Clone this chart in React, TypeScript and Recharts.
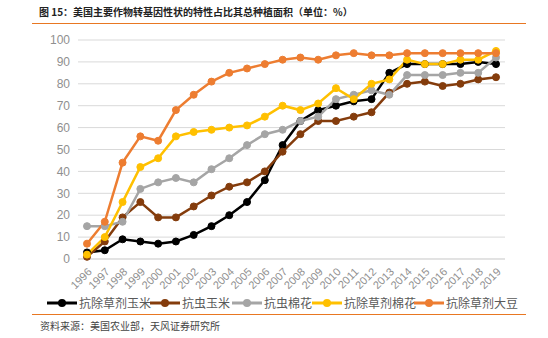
import { LineChart, Line, XAxis, YAxis, CartesianGrid, Legend } from "recharts";

const years = [
  "1996", "1997", "1998", "1999", "2000", "2001", "2002", "2003", "2004", "2005", "2006", "2007",
  "2008", "2009", "2010", "2011", "2012", "2013", "2014", "2015", "2016", "2017", "2018", "2019",
];

const htCorn = [3, 4, 9, 8, 7, 8, 11, 15, 20, 26, 36, 52, 63, 68, 70, 72, 73, 85, 89, 89, 89, 89, 90, 89];
const btCorn = [1, 8, 19, 26, 19, 19, 24, 29, 33, 35, 40, 49, 57, 63, 63, 65, 67, 76, 80, 81, 79, 80, 82, 83];
const btCotton = [15, 15, 17, 32, 35, 37, 35, 41, 46, 52, 57, 59, 63, 65, 73, 75, 77, 75, 84, 84, 84, 85, 85, 92];
const htCotton = [2, 10, 26, 42, 46, 56, 58, 59, 60, 61, 65, 70, 68, 71, 78, 73, 80, 82, 91, 89, 89, 91, 91, 95];
const htSoy = [7, 17, 44, 56, 54, 68, 75, 81, 85, 87, 89, 91, 92, 91, 93, 94, 93, 93, 94, 94, 94, 94, 94, 94];

const yTicks = [0, 10, 20, 30, 40, 50, 60, 70, 80, 90, 100];

const SERIES = [
  { key: "htCorn", name: "抗除草剂玉米", color: "#000000" },
  { key: "btCorn", name: "抗虫玉米", color: "#843C0C" },
  { key: "btCotton", name: "抗虫棉花", color: "#A5A5A5" },
  { key: "htCotton", name: "抗除草剂棉花", color: "#FFC000" },
  { key: "htSoy", name: "抗除草剂大豆", color: "#ED7D31" },
];

const chartData = years.map((year, i) => ({
  year,
  htCorn: htCorn[i],
  btCorn: btCorn[i],
  btCotton: btCotton[i],
  htCotton: htCotton[i],
  htSoy: htSoy[i],
}));

const LEGEND_X = [47, 150, 232, 312, 414];

const LegendContent = () => (
  <div style={{ position: "relative", height: 20, width: 548 }}>
    {SERIES.map((s, i) => (
      <div
        key={s.key}
        style={{ position: "absolute", left: LEGEND_X[i], top: 0, display: "flex", alignItems: "center" }}
      >
        <svg width={30} height={12}>
          <line x1={0} y1={6} x2={30} y2={6} stroke={s.color} strokeWidth={3} />
          <circle cx={15} cy={6} r={4} fill={s.color} />
        </svg>
        <span style={{ marginLeft: 2, fontSize: 12, color: "#595959", fontFamily: "'Noto Sans CJK SC', sans-serif" }}>
          {s.name}
        </span>
      </div>
    ))}
  </div>
);

const App = () => {
  return (
    <div style={{ position: "absolute", left: 0, top: 0, width: 548, height: 338, background: "#fff", overflow: "hidden" }}>
      <div
        style={{
          position: "absolute",
          left: 39,
          top: 4,
          fontSize: 10,
          fontWeight: "bold",
          color: "#222",
          fontFamily: "'Noto Sans CJK SC', sans-serif",
          whiteSpace: "nowrap",
        }}
      >
        图 15：美国主要作物转基因性状的特性占比其总种植面积（单位：%）
      </div>
      <div style={{ position: "absolute", left: 32, top: 23, width: 494, height: 1, background: "#E87722" }} />
      <div style={{ position: "absolute", left: 0, top: 0 }}>
        <LineChart width={548} height={338} data={chartData} margin={{ top: 40, right: 43, bottom: 34, left: 38 }}>
          <CartesianGrid vertical={false} stroke="#D9D9D9" strokeWidth={1} />
          <XAxis
            dataKey="year"
            interval={0}
            padding={{ left: 9, right: 9 }}
            axisLine={{ stroke: "#D9D9D9" }}
            tickLine={false}
            angle={-45}
            textAnchor="end"
            height={25}
            tick={{ fontSize: 11, fill: "#8F8F8F", fontFamily: "'Liberation Sans', sans-serif" }}
          />
          <YAxis
            domain={[0, 100]}
            ticks={yTicks}
            width={40}
            axisLine={false}
            tickLine={false}
            interval={0}
            tick={{ fontSize: 12, fill: "#8F8F8F", fontFamily: "'Liberation Sans', sans-serif" }}
          />
          <Legend content={<LegendContent />} wrapperStyle={{ position: "absolute", left: 0, top: 294, width: 548 }} />
          {SERIES.map((s) => (
            <Line
              key={s.key}
              type="linear"
              dataKey={s.key}
              name={s.name}
              stroke={s.color}
              strokeWidth={2.5}
              dot={{ r: 3.5, fill: s.color, stroke: s.color, strokeWidth: 1 }}
              isAnimationActive={false}
            />
          ))}
        </LineChart>
      </div>
      <div style={{ position: "absolute", left: 32, top: 314, width: 494, height: 1, background: "#E87722" }} />
      <div
        style={{
          position: "absolute",
          left: 40,
          top: 318,
          fontSize: 10,
          color: "#444",
          fontFamily: "'Noto Sans CJK SC', sans-serif",
          whiteSpace: "nowrap",
        }}
      >
        资料来源：美国农业部，天风证券研究所
      </div>
    </div>
  );
};

export default App;
